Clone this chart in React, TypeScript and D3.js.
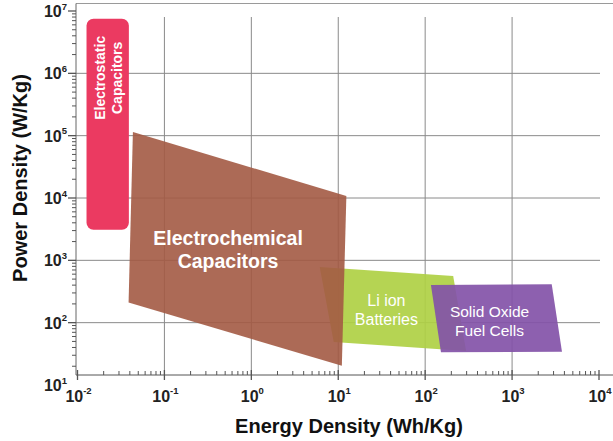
import React from "react";
import * as d3 from "d3";

// axis decades (exponents of 10)
const energyDecades = [-2, -1, 0, 1, 2, 3, 4];
const powerDecades = [1, 2, 3, 4, 5, 6, 7];

// regions, [energy Wh/Kg, power W/Kg]
const electrostatic = [
  [0.0127, 7.5e6],
  [0.039, 3.1e3],
];
const electrochemical = [
  [0.0434, 1.14e5],
  [12.4, 1.08e4],
  [11.0, 20.4],
  [0.0387, 210],
];
const liIon = [
  [6.12, 784],
  [210, 562],
  [296, 35.1],
  [8.86, 49],
];
const sofc = [
  [116.5, 403],
  [2858, 413],
  [3750, 34.3],
  [152, 33.5],
];

// label text and centre of the label block [energy, power]
const electrostaticLabel = { lines: ["Electrostatic", "Capacitors"], at: [0.02255, 8.47e5] };
const electrochemicalLabel = { lines: ["Electrochemical", "Capacitors"], at: [0.54, 1496] };
const liIonLabel = { lines: ["Li ion", "Batteries"], at: [35.8, 160] };
const sofcLabel = { lines: ["Solid Oxide", "Fuel Cells"], at: [550, 107] };

const FONT = "'Liberation Sans', Arial, Helvetica, sans-serif";

export default function App() {
  const width = 613;
  const height = 441;
  const frameLeft = 76;
  const frameTop = 3.5;
  const frameBottom = 375;

  const x = d3.scaleLog().domain([1e-2, 1e4]).range([77.5, 599]);
  const y = d3.scaleLog().domain([1e1, 1e7]).range([385, 11]);

  const line = d3
    .line<number[]>()
    .x((d) => x(d[0]))
    .y((d) => y(d[1]))
    .curve(d3.curveLinearClosed);

  // minor log ticks
  const xMinor: number[] = [];
  energyDecades.slice(0, -1).forEach((e) => {
    for (let k = 2; k <= 9; k++) xMinor.push(k * Math.pow(10, e));
  });
  const yMinor: number[] = [];
  powerDecades.slice(0, -1).forEach((e) => {
    for (let k = 2; k <= 9; k++) yMinor.push(k * Math.pow(10, e));
  });

  const label = (
    lab: { lines: string[]; at: number[] },
    fs: number,
    lh: number,
    weight: string
  ) => {
    const cx = x(lab.at[0]);
    const cy = y(lab.at[1]);
    const n = lab.lines.length;
    return (
      <text
        textAnchor="middle"
        fill="#fff"
        fontSize={fs}
        fontWeight={weight}
        fontFamily={FONT}
      >
        {lab.lines.map((t, i) => (
          <tspan key={i} x={cx} y={cy + (i - (n - 1) / 2) * lh + 0.35 * fs}>
            {t}
          </tspan>
        ))}
      </text>
    );
  };

  const esX0 = x(electrostatic[0][0]);
  const esX1 = x(electrostatic[1][0]);
  const esY0 = y(electrostatic[0][1]);
  const esY1 = y(electrostatic[1][1]);
  const esCx = x(electrostaticLabel.at[0]);
  const esCy = y(electrostaticLabel.at[1]);

  return (
    <svg
      width={width}
      height={height}
      style={{ position: "absolute", left: 0, top: 0, background: "#fff" }}
    >
      {/* grid */}
      <g stroke="#8a8a8a" strokeWidth={1}>
        {energyDecades.slice(1, -1).map((e) => (
          <line
            key={"vx" + e}
            x1={x(Math.pow(10, e))}
            x2={x(Math.pow(10, e))}
            y1={17}
            y2={frameBottom}
          />
        ))}
        {powerDecades.slice(1, -1).map((e) => (
          <line
            key={"hy" + e}
            x1={frameLeft}
            x2={600}
            y1={y(Math.pow(10, e))}
            y2={y(Math.pow(10, e))}
          />
        ))}
      </g>

      {/* regions */}
      <rect
        x={esX0}
        y={esY0}
        width={esX1 - esX0}
        height={esY1 - esY0}
        rx={7}
        fill="#eb3a61"
      />
      <path d={line(liIon) || ""} fill="#afd044" fillOpacity={0.92} />
      <path d={line(electrochemical) || ""} fill="#a35a44" fillOpacity={0.9} />
      <path d={line(sofc) || ""} fill="#8352a8" fillOpacity={0.92} />

      {/* region labels */}
      <g transform={`translate(${esCx},${esCy}) rotate(-90)`}>
        <text
          textAnchor="middle"
          fill="#fff"
          fontSize={14}
          fontWeight="bold"
          fontFamily={FONT}
        >
          <tspan x={0} y={-3.6}>
            {electrostaticLabel.lines[0]}
          </tspan>
          <tspan x={0} y={13.4}>
            {electrostaticLabel.lines[1]}
          </tspan>
        </text>
      </g>
      {label(electrochemicalLabel, 19.5, 22.7, "bold")}
      {label(liIonLabel, 16, 19, "normal")}
      {label(sofcLabel, 15.5, 19, "normal")}

      {/* frame and axes */}
      <line x1={frameLeft} x2={width} y1={frameTop} y2={frameTop} stroke="#9a9a9a" />
      <line x1={frameLeft} x2={width} y1={frameBottom} y2={frameBottom} stroke="#555" />
      <line x1={frameLeft} x2={frameLeft} y1={frameTop} y2={frameBottom} stroke="#666" />

      <g stroke="#555" strokeWidth={1}>
        {xMinor.map((v, i) => (
          <line key={"xm" + i} x1={x(v)} x2={x(v)} y1={frameBottom - 4} y2={frameBottom} />
        ))}
        {energyDecades.map((e) => (
          <line
            key={"xM" + e}
            x1={x(Math.pow(10, e))}
            x2={x(Math.pow(10, e))}
            y1={frameBottom - 5}
            y2={frameBottom + 5}
            strokeWidth={1.3}
          />
        ))}
        {yMinor
          .filter((v) => y(v) <= frameBottom)
          .map((v, i) => (
            <line key={"ym" + i} x1={frameLeft - 4} x2={frameLeft} y1={y(v)} y2={y(v)} />
          ))}
        {powerDecades
          .filter((e) => y(Math.pow(10, e)) <= frameBottom)
          .map((e) => (
            <line
              key={"yM" + e}
              x1={frameLeft - 8}
              x2={frameLeft}
              y1={y(Math.pow(10, e))}
              y2={y(Math.pow(10, e))}
              strokeWidth={1.3}
            />
          ))}
      </g>

      {/* tick labels */}
      <g fontFamily={FONT} fontWeight="bold" fill="#222">
        {energyDecades.map((e) => (
          <text key={"xl" + e} x={x(Math.pow(10, e)) + 1} y={401.5} textAnchor="middle" fontSize={16}>
            10
            <tspan dy={-7.5} fontSize={9.5}>
              {e}
            </tspan>
          </text>
        ))}
        {powerDecades.map((e) => (
          <text key={"yl" + e} x={67} y={y(Math.pow(10, e)) + 6} textAnchor="end" fontSize={16}>
            10
            <tspan dy={-7.5} fontSize={9.5}>
              {e}
            </tspan>
          </text>
        ))}
      </g>

      {/* axis titles */}
      <text
        x={349}
        y={433}
        textAnchor="middle"
        fontFamily={FONT}
        fontWeight="bold"
        fontSize={20}
        fill="#111"
      >
        Energy Density (Wh/Kg)
      </text>
      <text
        transform="translate(27,178) rotate(-90)"
        textAnchor="middle"
        fontFamily={FONT}
        fontWeight="bold"
        fontSize={20}
        fill="#111"
      >
        Power Density (W/Kg)
      </text>
    </svg>
  );
}
